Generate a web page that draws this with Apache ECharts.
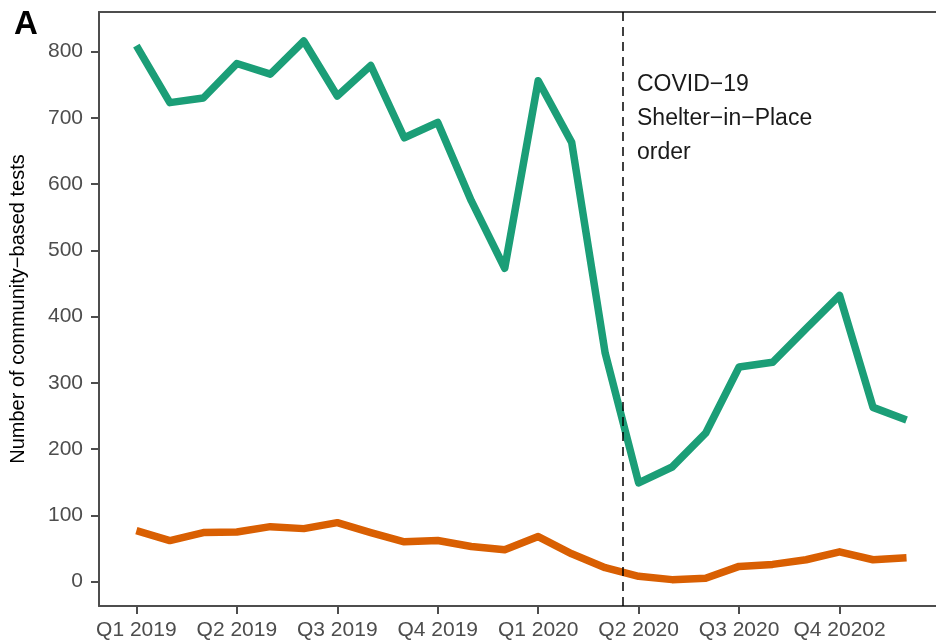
<!DOCTYPE html>
<html>
<head>
<meta charset="utf-8">
<script src="https://cdn.jsdelivr.net/npm/echarts@6/dist/echarts.min.js"></script>
<style>
html,body{margin:0;padding:0;background:#fff;}
#chart{width:936px;height:641px;}
</style>
</head>
<body>
<div id="chart"></div>
<script>
// monthly counts, Jan 2019 .. Dec 2020
const months = ['Jan 2019','Feb 2019','Mar 2019','Apr 2019','May 2019','Jun 2019','Jul 2019','Aug 2019','Sep 2019','Oct 2019','Nov 2019','Dec 2019',
                'Jan 2020','Feb 2020','Mar 2020','Apr 2020','May 2020','Jun 2020','Jul 2020','Aug 2020','Sep 2020','Oct 2020','Nov 2020','Dec 2020']
const greenVals = [809,723,730,782,766,816,733,779,670,693,575,473,756,663,345,149,173,224,324,331,382,432,263,244]
const orangeVals = [77,62,74,75,83,80,89,74,60,62,53,48,68,42,21,8,3,5,23,26,33,45,33,36]
const quarterTicks = [0,3,6,9,12,15,18,21]
const quarterLabels = ['Q1 2019','Q2 2019','Q3 2019','Q4 2019','Q1 2020','Q2 2020','Q3 2020','Q4 20202']
const yTicks = [0,100,200,300,400,500,600,700,800]
const shelterAt = 14.53  // mid March 2020
const noteLines = ['COVID\u221219','Shelter\u2212in\u2212Place','order']

const font = 'Liberation Sans, Arial, sans-serif'
const axisCol = '#4d4d4d'

function toPts(arr){
    let out = []
    for(let i in arr){
        out.push([Number(i), arr[i]])
    }
    return out
}

let myChart = echarts.init(document.getElementById('chart'))
let option = {
    animation: false,
    textStyle: { fontFamily: font },
    grid: { left: 96, right: 0, top: 12, bottom: 34.3 },
    xAxis: [{
        type: 'value',
        min: -1.116,
        max: 23.88,
        splitLine: { show: false },
        axisLine: { onZero: false, lineStyle: { color: axisCol, width: 2 } },
        axisTick: { show: true, length: 8, customValues: quarterTicks, lineStyle: { color: axisCol, width: 2 } },
        axisLabel: {
            customValues: quarterTicks,
            margin: 14,
            fontSize: 21,
            color: axisCol,
            fontFamily: font,
            formatter: v => quarterLabels[quarterTicks.indexOf(v)]
        }
    }, {
        type: 'value',
        position: 'top',
        min: -1.116,
        max: 23.88,
        splitLine: { show: false },
        axisLine: { show: true, onZero: false, lineStyle: { color: axisCol, width: 2 } },
        axisTick: { show: false },
        axisLabel: { show: false }
    }],
    yAxis: {
        type: 'value',
        min: -36.8,
        max: 859.8,
        name: 'Number of community\u2212based tests',
        nameLocation: 'middle',
        nameGap: 71,
        nameTextStyle: { fontSize: 20, color: '#000', fontFamily: font },
        splitLine: { show: false },
        axisLine: { show: true, onZero: false, lineStyle: { color: axisCol, width: 2 } },
        axisTick: { show: true, length: 8, customValues: yTicks, lineStyle: { color: axisCol, width: 2 } },
        axisLabel: {
            customValues: yTicks,
            margin: 16,
            fontSize: 21,
            color: axisCol,
            fontFamily: font
        }
    },
    series: [
        {
            name: 'green',
            type: 'line',
            data: toPts(greenVals),
            showSymbol: false,
            lineStyle: { color: '#1b9e77', width: 7.5, join: 'round' },
            markLine: {
                silent: true,
                symbol: 'none',
                label: { show: false },
                lineStyle: { color: '#000', width: 1.5, type: [9, 6] },
                data: [{ xAxis: shelterAt }]
            },
            z: 3
        },
        {
            name: 'orange',
            type: 'line',
            data: toPts(orangeVals),
            showSymbol: false,
            lineStyle: { color: '#d95f02', width: 7.5, join: 'round' },
            z: 3
        }
    ],
    graphic: [
        {
            type: 'text',
            left: 14,
            top: 8,
            style: { text: 'A', font: 'bold 33px ' + font, fill: '#000' }
        },
        {
            type: 'text',
            left: 637,
            top: 68,
            style: { text: noteLines.join('\n'), font: '23px ' + font, lineHeight: 34, fill: '#1a1a1a' }
        }
    ]
}
myChart.setOption(option)
</script>
</body>
</html>
